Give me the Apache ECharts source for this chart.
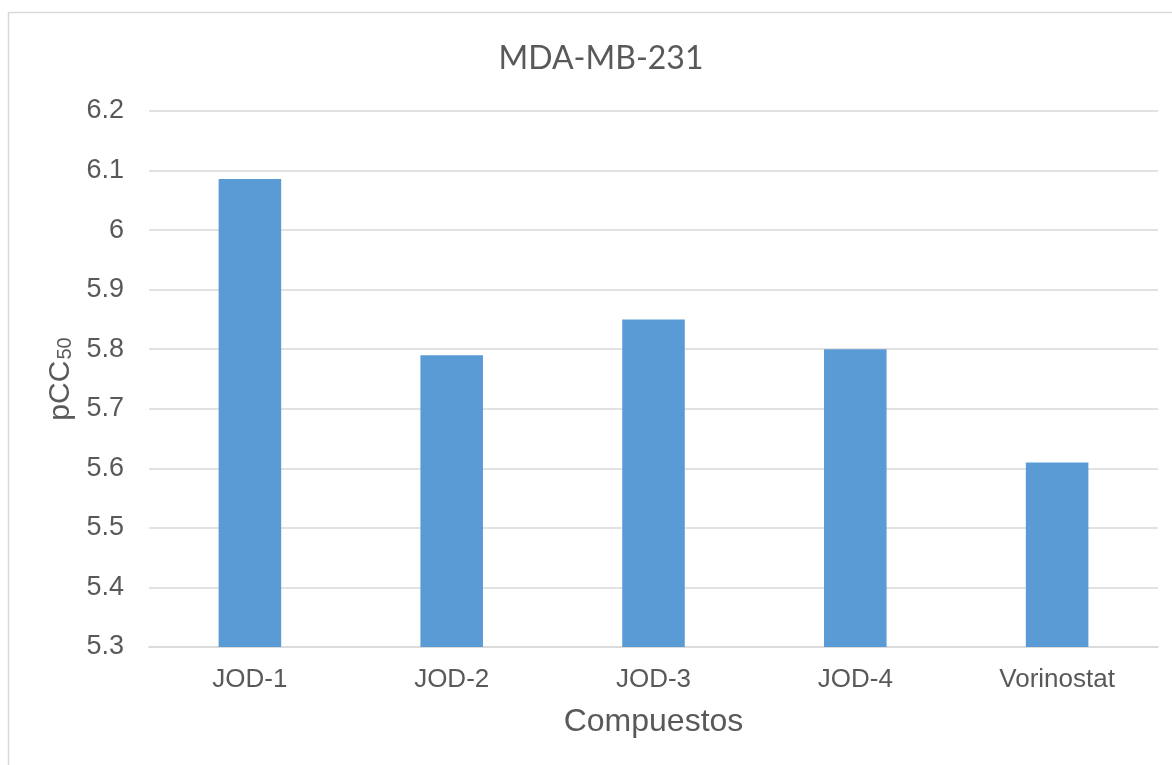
<!DOCTYPE html>
<html>
<head>
<meta charset="utf-8">
<script src="https://cdn.jsdelivr.net/npm/echarts@6/dist/echarts.min.js"></script>
<style>
  html, body { margin: 0; padding: 0; background: #fff; }
  #chart { width: 1172px; height: 765px; }
</style>
</head>
<body>
<div id="chart"></div>
<script>
// Compounds and their pCC50 values against MDA-MB-231 cells
const categories = ['JOD-1', 'JOD-2', 'JOD-3', 'JOD-4', 'Vorinostat'];
const pcc50 = [6.086, 5.79, 5.85, 5.80, 5.61];
const yMin = 5.3, yMax = 6.2, yStep = 0.1;

const chart = echarts.init(document.getElementById('chart'), null, { renderer: 'canvas' });
const font = '"Liberation Sans", Arial, sans-serif';
const titleFont = 'Lato, "Open Sans", sans-serif';
const grey = '#595959';

chart.setOption({
  backgroundColor: '#ffffff',
  animation: false,
  textStyle: { fontFamily: font },
  graphic: [{
    type: 'rect',
    shape: { x: 8.5, y: 12.5, width: 1200, height: 800 },
    style: { fill: 'none', stroke: '#d9d9d9', lineWidth: 1.5 },
    z: -1
  }],
  title: {
    text: 'MDA-MB-231',
    left: 596,
    textAlign: 'center',
    top: 38,
    textStyle: { fontFamily: titleFont, fontSize: 32, fontWeight: 'normal', color: grey }
  },
  grid: { left: 149, right: 14, top: 111, bottom: 118 },
  xAxis: {
    type: 'category',
    data: categories,
    name: 'Compuestos',
    nameLocation: 'middle',
    nameGap: 59,
    nameTextStyle: { fontFamily: font, fontSize: 32, color: grey },
    axisLine: { lineStyle: { color: '#d9d9d9', width: 1.5 } },
    axisTick: { show: false },
    axisLabel: { margin: 20, fontFamily: font, fontSize: 26, color: grey }
  },
  yAxis: {
    type: 'value',
    min: yMin,
    max: yMax,
    interval: yStep,
    name: '{a|pCC}{b|50}',
    nameLocation: 'middle',
    nameGap: 68,
    nameRotate: 90,
    nameTextStyle: {
      color: grey,
      rich: {
        a: { fontFamily: font, fontSize: 30, color: grey, lineHeight: 34, verticalAlign: 'bottom' },
        b: { fontFamily: font, fontSize: 20, color: grey, lineHeight: 34, verticalAlign: 'bottom', padding: [0, 0, 0, 1] }
      }
    },
    axisLine: { show: false },
    axisTick: { show: false },
    splitLine: { lineStyle: { color: '#d9d9d9', width: 1.5 } },
    axisLabel: {
      margin: 25,
      fontFamily: font,
      fontSize: 27,
      color: grey,
      formatter: v => String(parseFloat(v.toFixed(1)))
    }
  },
  series: [{
    type: 'bar',
    data: pcc50,
    barWidth: '31%',
    itemStyle: { color: '#5b9bd5' }
  }]
});
</script>
</body>
</html>
